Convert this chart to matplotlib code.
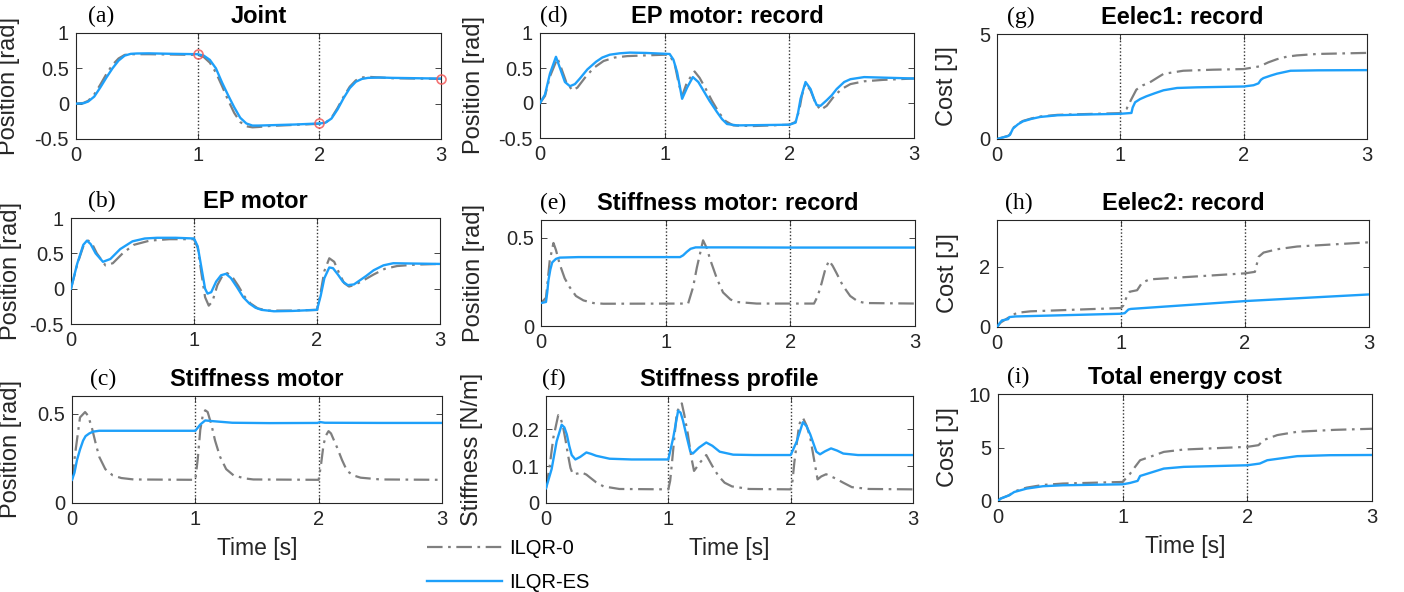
import numpy as np
import matplotlib
matplotlib.use("Agg")
import matplotlib.pyplot as plt

plt.rcParams['font.family'] = ['Liberation Sans', 'DejaVu Sans']

# ---- data (time [s], value) ----
joint_es = [(0, 0), (0.06, 0.005), (0.1, 0.03), (0.15, 0.1), (0.2, 0.23), (0.25, 0.37), (0.3, 0.5),
            (0.35, 0.61), (0.4, 0.68), (0.45, 0.705), (0.5, 0.71), (0.6, 0.712), (0.8, 0.705),
            (1.0, 0.7), (1.05, 0.68), (1.1, 0.62), (1.15, 0.5), (1.2, 0.3), (1.25, 0.12), (1.3, -0.05),
            (1.35, -0.2), (1.4, -0.28), (1.45, -0.31), (1.5, -0.31), (1.6, -0.305), (1.8, -0.295),
            (2.0, -0.28), (2.05, -0.27), (2.1, -0.21), (2.15, -0.08), (2.2, 0.08), (2.25, 0.22),
            (2.3, 0.31), (2.35, 0.35), (2.4, 0.365), (2.5, 0.37), (2.6, 0.365), (2.8, 0.36), (3.0, 0.355)]
joint_0 = [(0, 0), (0.06, 0.01), (0.1, 0.04), (0.15, 0.13), (0.2, 0.27), (0.25, 0.42), (0.3, 0.55),
           (0.35, 0.64), (0.4, 0.69), (0.45, 0.7), (0.6, 0.7), (0.8, 0.695), (1.0, 0.69), (1.05, 0.66),
           (1.1, 0.58), (1.15, 0.44), (1.2, 0.25), (1.25, 0.05), (1.3, -0.13), (1.35, -0.26),
           (1.4, -0.32), (1.45, -0.335), (1.5, -0.33), (1.6, -0.315), (1.8, -0.3), (2.0, -0.285),
           (2.05, -0.27), (2.1, -0.2), (2.15, -0.06), (2.2, 0.1), (2.25, 0.24), (2.3, 0.33),
           (2.35, 0.37), (2.4, 0.38), (2.45, 0.375), (2.5, 0.37), (2.6, 0.36), (2.8, 0.355), (3.0, 0.35)]
joint_targets = [(1, 0.7), (2, -0.28), (3, 0.355)]

ep_es = [(0, 0), (0.05, 0.35), (0.1, 0.62), (0.13, 0.68), (0.16, 0.63), (0.2, 0.5), (0.26, 0.38),
         (0.32, 0.42), (0.4, 0.56), (0.5, 0.67), (0.6, 0.71), (0.7, 0.72), (0.85, 0.72), (1.0, 0.71),
         (1.03, 0.6), (1.06, 0.3), (1.09, 0.0), (1.11, -0.07), (1.14, -0.05), (1.18, 0.1), (1.22, 0.19),
         (1.26, 0.21), (1.3, 0.15), (1.35, 0.02), (1.4, -0.12), (1.45, -0.21), (1.5, -0.27),
         (1.55, -0.3), (1.65, -0.32), (1.8, -0.315), (2.0, -0.3), (2.03, -0.1), (2.06, 0.15),
         (2.1, 0.3), (2.13, 0.29), (2.17, 0.2), (2.21, 0.1), (2.25, 0.05), (2.3, 0.06), (2.35, 0.12),
         (2.4, 0.18), (2.46, 0.26), (2.54, 0.33), (2.62, 0.36), (2.8, 0.355), (3.0, 0.35)]
ep_0 = [(0, 0), (0.05, 0.34), (0.1, 0.6), (0.14, 0.68), (0.17, 0.64), (0.21, 0.5), (0.28, 0.33),
        (0.34, 0.36), (0.42, 0.5), (0.51, 0.62), (0.64, 0.68), (0.8, 0.7), (1.0, 0.7), (1.03, 0.58),
        (1.06, 0.22), (1.09, -0.12), (1.12, -0.24), (1.15, -0.18), (1.19, 0.05), (1.23, 0.18),
        (1.27, 0.22), (1.31, 0.17), (1.36, 0.04), (1.41, -0.11), (1.46, -0.21), (1.52, -0.28),
        (1.6, -0.31), (1.8, -0.31), (2.0, -0.3), (2.03, -0.05), (2.06, 0.25), (2.1, 0.43),
        (2.14, 0.38), (2.18, 0.22), (2.22, 0.08), (2.26, 0.03), (2.3, 0.05), (2.36, 0.1),
        (2.46, 0.2), (2.55, 0.28), (2.65, 0.32), (2.8, 0.34), (3.0, 0.35)]

stiff_es = [(0, 0.13), (0.02, 0.17), (0.04, 0.24), (0.065, 0.3), (0.09, 0.35), (0.11, 0.375),
            (0.14, 0.39), (0.17, 0.4), (0.22, 0.405), (0.5, 0.405), (1.0, 0.405), (1.04, 0.44),
            (1.08, 0.463), (1.14, 0.459), (1.3, 0.45), (1.6, 0.448), (1.99, 0.449), (2.01, 0.454),
            (2.05, 0.45), (2.5, 0.449), (3.0, 0.449)]
stiff_0 = [(0, 0.13), (0.03, 0.3), (0.065, 0.48), (0.106, 0.51), (0.13, 0.49), (0.16, 0.425),
           (0.19, 0.34), (0.22, 0.26), (0.27, 0.19), (0.33, 0.155), (0.4, 0.14), (0.5, 0.132),
           (1.0, 0.13), (1.02, 0.25), (1.04, 0.41), (1.06, 0.49), (1.08, 0.52), (1.1, 0.51),
           (1.13, 0.44), (1.16, 0.35), (1.2, 0.26), (1.25, 0.19), (1.31, 0.155), (1.4, 0.138),
           (1.47, 0.132), (2.0, 0.13), (2.02, 0.22), (2.04, 0.33), (2.06, 0.38), (2.08, 0.403),
           (2.1, 0.39), (2.15, 0.31), (2.19, 0.24), (2.23, 0.18), (2.28, 0.155), (2.34, 0.142),
           (2.5, 0.132), (3.0, 0.13)]

ep_rec_es = [(0, 0), (0.04, 0.12), (0.08, 0.42), (0.128, 0.66), (0.16, 0.5), (0.2, 0.3), (0.24, 0.24),
             (0.28, 0.27), (0.32, 0.35), (0.38, 0.48), (0.45, 0.59), (0.5, 0.65), (0.56, 0.69),
             (0.64, 0.71), (0.72, 0.72), (0.85, 0.715), (1.04, 0.7), (1.07, 0.62), (1.1, 0.44),
             (1.14, 0.06), (1.18, 0.22), (1.226, 0.37), (1.27, 0.3), (1.31, 0.18), (1.36, 0.03),
             (1.42, -0.13), (1.46, -0.23), (1.5, -0.3), (1.58, -0.32), (1.8, -0.315), (2.0, -0.31),
             (2.05, -0.28), (2.07, -0.14), (2.09, 0.06), (2.13, 0.3), (2.17, 0.2), (2.2, 0.05),
             (2.22, -0.03), (2.25, -0.04), (2.3, 0.04), (2.34, 0.11), (2.38, 0.2), (2.44, 0.3),
             (2.49, 0.34), (2.6, 0.37), (2.8, 0.36), (3.0, 0.35)]
ep_rec_0 = [(0, 0), (0.04, 0.1), (0.08, 0.38), (0.14, 0.64), (0.17, 0.5), (0.21, 0.3), (0.26, 0.18),
            (0.3, 0.22), (0.36, 0.36), (0.43, 0.5), (0.51, 0.6), (0.6, 0.65), (0.7, 0.67), (0.85, 0.68),
            (1.0, 0.69), (1.04, 0.68), (1.08, 0.56), (1.11, 0.3), (1.14, 0.1), (1.18, 0.3), (1.24, 0.45),
            (1.28, 0.36), (1.33, 0.2), (1.38, 0.03), (1.44, -0.15), (1.49, -0.26), (1.55, -0.32),
            (1.7, -0.33), (1.85, -0.32), (2.0, -0.31), (2.05, -0.27), (2.08, -0.1), (2.1, 0.1),
            (2.13, 0.28), (2.17, 0.18), (2.21, 0.0), (2.25, -0.1), (2.3, -0.04), (2.36, 0.1),
            (2.42, 0.2), (2.49, 0.27), (2.6, 0.31), (2.75, 0.33), (3.0, 0.35)]

stiff_rec_es = [(0, 0.13), (0.04, 0.136), (0.05, 0.19), (0.06, 0.26), (0.075, 0.32), (0.09, 0.36),
                (0.12, 0.38), (0.15, 0.387), (0.3, 0.39), (1.115, 0.39), (1.14, 0.4), (1.17, 0.42),
                (1.2, 0.437), (1.24, 0.445), (1.5, 0.445), (2.0, 0.444), (3.0, 0.444)]
stiff_rec_0 = [(0, 0.13), (0.04, 0.16), (0.07, 0.37), (0.1, 0.47), (0.12, 0.43), (0.15, 0.35),
               (0.19, 0.27), (0.23, 0.22), (0.28, 0.17), (0.34, 0.145), (0.42, 0.13), (0.5, 0.126),
               (1.18, 0.127), (1.22, 0.22), (1.25, 0.33), (1.3, 0.485), (1.33, 0.44), (1.36, 0.37),
               (1.41, 0.27), (1.46, 0.19), (1.52, 0.15), (1.57, 0.136), (1.73, 0.127), (2.19, 0.127),
               (2.22, 0.17), (2.25, 0.24), (2.28, 0.32), (2.31, 0.37), (2.34, 0.34), (2.37, 0.3),
               (2.42, 0.23), (2.48, 0.17), (2.54, 0.14), (2.6, 0.13), (3.0, 0.127)]

profile_es = [(0, 0.04), (0.046, 0.092), (0.087, 0.167), (0.128, 0.212), (0.15, 0.205), (0.17, 0.186),
              (0.19, 0.155), (0.21, 0.13), (0.24, 0.118), (0.28, 0.125), (0.33, 0.137), (0.37, 0.133),
              (0.41, 0.128), (0.52, 0.12), (0.7, 0.118), (1.0, 0.118), (1.04, 0.177), (1.08, 0.25),
              (1.1, 0.245), (1.12, 0.223), (1.15, 0.18), (1.18, 0.139), (1.2, 0.134), (1.25, 0.15),
              (1.31, 0.164), (1.36, 0.155), (1.42, 0.139), (1.53, 0.131), (1.7, 0.13), (2.0, 0.13),
              (2.05, 0.167), (2.1, 0.219), (2.13, 0.208), (2.16, 0.186), (2.21, 0.139), (2.24, 0.132),
              (2.28, 0.14), (2.33, 0.148), (2.38, 0.142), (2.43, 0.134), (2.55, 0.13), (3.0, 0.13)]
profile_0 = [(0, 0.04), (0.03, 0.1), (0.06, 0.177), (0.1, 0.238), (0.12, 0.23), (0.14, 0.205),
             (0.16, 0.17), (0.18, 0.13), (0.2, 0.095), (0.22, 0.078), (0.26, 0.08), (0.29, 0.083),
             (0.33, 0.077), (0.36, 0.069), (0.41, 0.056), (0.47, 0.045), (0.6, 0.038), (1.0, 0.037),
             (1.015, 0.06), (1.03, 0.11), (1.05, 0.18), (1.07, 0.247), (1.11, 0.27), (1.13, 0.24),
             (1.16, 0.186), (1.19, 0.12), (1.21, 0.087), (1.26, 0.11), (1.31, 0.13), (1.36, 0.1),
             (1.41, 0.073), (1.46, 0.055), (1.52, 0.045), (1.66, 0.038), (2.0, 0.037), (2.015, 0.06),
             (2.03, 0.11), (2.07, 0.214), (2.1, 0.231), (2.13, 0.21), (2.16, 0.177), (2.19, 0.12),
             (2.22, 0.064), (2.25, 0.072), (2.29, 0.078), (2.33, 0.072), (2.37, 0.066), (2.43, 0.055),
             (2.5, 0.043), (2.64, 0.038), (3.0, 0.037)]

eelec1_es = [(0, 0), (0.05, 0.08), (0.09, 0.14), (0.105, 0.2), (0.13, 0.5), (0.17, 0.7), (0.21, 0.84),
             (0.28, 0.96), (0.35, 1.05), (0.49, 1.13), (0.67, 1.16), (1.0, 1.2), (1.09, 1.24),
             (1.1, 1.5), (1.12, 1.75), (1.16, 1.9), (1.21, 2.03), (1.28, 2.18), (1.35, 2.32),
             (1.46, 2.43), (1.62, 2.46), (2.0, 2.5), (2.08, 2.56), (2.12, 2.65), (2.14, 2.82),
             (2.16, 2.9), (2.22, 3.02), (2.27, 3.11), (2.38, 3.25), (2.6, 3.27), (3.0, 3.28)]
eelec1_0 = [(0, 0), (0.05, 0.08), (0.09, 0.15), (0.105, 0.22), (0.13, 0.52), (0.17, 0.72), (0.21, 0.86),
            (0.28, 0.98), (0.35, 1.07), (0.49, 1.15), (0.67, 1.18), (1.0, 1.23), (1.05, 1.43),
            (1.09, 1.9), (1.13, 2.35), (1.18, 2.55), (1.24, 2.7), (1.3, 2.92), (1.35, 3.1), (1.51, 3.25),
            (1.75, 3.3), (2.0, 3.33), (2.13, 3.46), (2.2, 3.65), (2.27, 3.8), (2.35, 3.92),
            (2.43, 3.98), (2.6, 4.05), (3.0, 4.1)]

eelec2_es = [(0, 0), (0.02, 0.12), (0.04, 0.22), (0.09, 0.26), (0.1, 0.33), (0.15, 0.35), (1.0, 0.44),
             (1.03, 0.46), (1.06, 0.58), (1.08, 0.6), (2.0, 0.86), (3.0, 1.08)]
eelec2_0 = [(0, 0), (0.03, 0.15), (0.1, 0.33), (0.16, 0.47), (0.27, 0.52), (1.0, 0.63), (1.02, 0.72),
            (1.05, 1.05), (1.07, 1.17), (1.13, 1.22), (1.17, 1.47), (1.23, 1.58), (2.0, 1.78),
            (2.08, 1.83), (2.11, 2.33), (2.15, 2.47), (2.26, 2.58), (2.42, 2.67), (3.0, 2.81)]

total_es = [(0, 0), (0.02, 0.22), (0.09, 0.53), (0.13, 0.84), (0.18, 1.0), (0.23, 1.16), (0.36, 1.38),
            (0.52, 1.47), (1.0, 1.56), (1.06, 1.69), (1.12, 1.88), (1.14, 2.34), (1.22, 2.63),
            (1.33, 3.03), (1.49, 3.19), (2.0, 3.34), (2.1, 3.5), (2.16, 3.81), (2.26, 3.97),
            (2.4, 4.19), (2.66, 4.28), (3.0, 4.3)]
total_0 = [(0, 0), (0.02, 0.22), (0.09, 0.55), (0.13, 0.88), (0.18, 1.08), (0.23, 1.25), (0.36, 1.5),
           (0.52, 1.63), (1.0, 1.78), (1.06, 2.56), (1.1, 3.2), (1.14, 3.81), (1.22, 4.13),
           (1.33, 4.59), (1.49, 4.81), (2.0, 5.06), (2.09, 5.22), (2.13, 5.69), (2.24, 6.16),
           (2.4, 6.47), (2.7, 6.65), (3.0, 6.75)]

# panel: (title, ylabel, series_0, series_es, ylim, yticks, yticklabels)
panels = {
    'a': ('Joint', 'Position [rad]', joint_0, joint_es, (-0.5, 1), [-0.5, 0, 0.5, 1], ['-0.5', '0', '0.5', '1']),
    'b': ('EP motor', 'Position [rad]', ep_0, ep_es, (-0.5, 1), [-0.5, 0, 0.5, 1], ['-0.5', '0', '0.5', '1']),
    'c': ('Stiffness motor', 'Position [rad]', stiff_0, stiff_es, (0, 0.6), [0, 0.5], ['0', '0.5']),
    'd': ('EP motor: record', 'Position [rad]', ep_rec_0, ep_rec_es, (-0.5, 1), [-0.5, 0, 0.5, 1], ['-0.5', '0', '0.5', '1']),
    'e': ('Stiffness motor: record', 'Position [rad]', stiff_rec_0, stiff_rec_es, (0, 0.6), [0, 0.5], ['0', '0.5']),
    'f': ('Stiffness profile', 'Stiffness [N/m]', profile_0, profile_es, (0, 0.29), [0, 0.1, 0.2], ['0', '0.1', '0.2']),
    'g': ('Eelec1: record', 'Cost [J]', eelec1_0, eelec1_es, (0, 5), [0, 5], ['0', '5']),
    'h': ('Eelec2: record', 'Cost [J]', eelec2_0, eelec2_es, (0, 3.55), [0, 2], ['0', '2']),
    'i': ('Total energy cost', 'Cost [J]', total_0, total_es, (0, 10), [0, 5, 10], ['0', '5', '10']),
}
xticks = [0, 1, 2, 3]
phase_lines = [1, 2]

# axes boxes in pixels: left, right, top, bottom ; ylabel center x ; panel label x
W, H = 1404, 592
boxes = {
    'a': (76, 441, 33, 139, 20, 88), 'b': (71, 440, 218, 324, 22, 88), 'c': (72, 442, 396, 503, 22, 90),
    'd': (540, 914, 33, 138, 485, 540), 'e': (541, 915, 220, 326, 485, 540), 'f': (546, 913, 396, 503, 483, 542),
    'g': (997, 1367, 34, 139, 958, 1007), 'h': (997, 1369, 220, 327, 959, 1005), 'i': (998, 1372, 394, 501, 959, 1007),
}

BLUE = '#1ea0fa'
GRAY = '#7f7f7f'
DARK = '#262626'

fig = plt.figure(figsize=(W / 100, H / 100), dpi=100)

handles = None
for key, (title, ylab, s0, ses, ylim, yt, ytl) in panels.items():
    l, r, t, b, ylx, plx = boxes[key]
    ax = fig.add_axes([l / W, 1 - b / H, (r - l) / W, (b - t) / H])
    for xv in phase_lines:
        ax.axvline(xv, color='#333333', lw=1.0, ls=(0, (1, 1.5)), zorder=1)
    t0, y0 = zip(*s0)
    t1, y1 = zip(*ses)
    h0, = ax.plot(t0, y0, color=GRAY, lw=1.6, dashes=(7, 2.5, 1.2, 2.5), label='ILQR-0', zorder=2)
    h1, = ax.plot(t1, y1, color=BLUE, lw=1.7, label='ILQR-ES', zorder=3)
    if key == 'a':
        tm, ym = zip(*joint_targets)
        ax.plot(tm, ym, 'o', ms=6.5, mfc='none', mec='#f25b5b', mew=1.2, alpha=0.85, zorder=4, clip_on=False)
        handles = [h0, h1]
    ax.set_xlim(0, 3)
    ax.set_ylim(*ylim)
    ax.set_xticks(xticks)
    ax.set_xticklabels([str(v) for v in xticks])
    ax.set_yticks(yt)
    ax.set_yticklabels(ytl)
    ax.tick_params(direction='in', length=4, width=0.6, top=True, right=True,
                   labelsize=14.5, colors=DARK, pad=5)
    for sp in ax.spines.values():
        sp.set_color(DARK)
        sp.set_linewidth(0.8)
    ax.set_title(title, fontsize=17, fontweight='bold', pad=7.5)
    ax.set_ylabel(ylab, fontsize=17, color=DARK)
    ax.yaxis.set_label_coords((ylx - l) / (r - l), 0.5)
    if key in ('c', 'f', 'i'):
        ax.set_xlabel('Time [s]', fontsize=16.5, color=DARK)
        ax.xaxis.set_label_coords(0.5, -45 / (b - t), transform=ax.transAxes)
        ax.xaxis.label.set_va('center')
    fig.text(plx / W, 1 - (t - 11) / H, '(%s)' % key, fontsize=17,
             family=['Liberation Serif', 'DejaVu Serif'], va='baseline', ha='left')

fig.legend(handles, ['ILQR-0', 'ILQR-ES'], loc='upper left', bbox_to_anchor=(427 / W, 1 - 539 / H),
           frameon=False, fontsize=14.5, handlelength=3.7, handletextpad=0.4, labelspacing=0.75,
           borderpad=0, borderaxespad=0)

fig.savefig('out.png', dpi=100)
